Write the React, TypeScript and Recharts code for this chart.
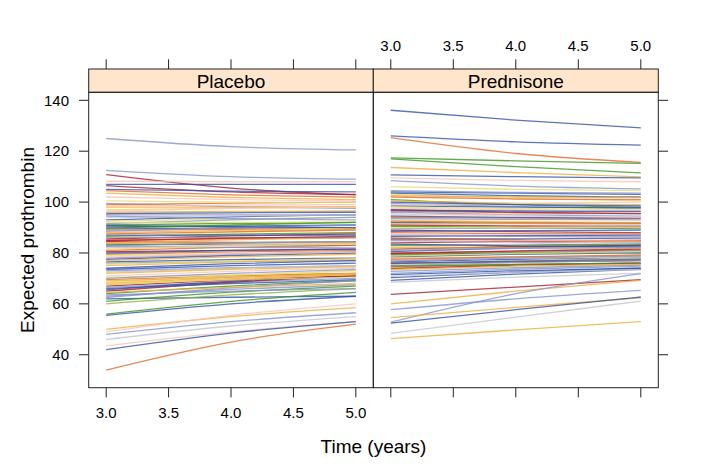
import React from 'react';
import { LineChart, Line, XAxis, YAxis } from 'recharts';

// time points (years) at which each fitted curve is read
const TIMES = [3, 4, 5];
const X_TICKS = [3, 3.5, 4, 4.5, 5];
const Y_TICKS = [40, 60, 80, 100, 120, 140];

// Placebo: expected prothrombin at t = 3, 4, 5
const placeboAt3 = [
  125.0, 112.5, 110.8, 108.2, 107.0, 106.5, 105.0, 104.5, 103.5, 99.5,
  99.0, 98.5, 97.0, 96.0, 95.0, 93.0, 92.5, 91.0, 90.2, 89.5,
  89.0, 88.0, 86.5, 86.0, 85.5, 85.0, 84.5, 84.0, 83.5, 83.0,
  82.0, 81.0, 79.5, 79.0, 78.0, 77.5, 76.5, 76.0, 74.0, 73.0,
  72.5, 71.0, 70.5, 69.5, 68.5, 68.0, 67.0, 66.5, 65.5, 65.0,
  64.0, 63.0, 62.5, 62.0, 61.0, 60.0, 56.0, 55.5, 50.0, 49.0,
  48.0, 46.0, 43.5, 42.0, 34.0, 94.0, 91.5, 87.0, 80.5, 75.0,
  67.5, 82.5, 100.5, 102.0, 88.5, 98.0, 96.5, 95.5, 94.5, 92.0,
  90.8, 89.8, 87.5, 86.2, 84.8, 83.8, 82.8, 81.5, 80.0, 78.5,
  77.0, 75.5, 73.5, 72.0, 70.0, 69.0, 67.8, 66.0, 64.5, 63.5,
];
const placeboAt4 = [
  121.8, 110.0, 105.5, 108.0, 107.0, 104.0, 104.3, 102.8, 101.8, 98.2,
  99.6, 98.8, 97.6, 96.3, 95.0, 94.2, 93.4, 91.6, 90.6, 89.8,
  89.3, 88.9, 87.4, 88.3, 86.7, 85.6, 84.2, 85.2, 83.2, 83.9,
  83.2, 82.2, 80.4, 79.6, 79.5, 79.0, 77.4, 76.6, 75.8, 74.2,
  74.0, 72.8, 71.4, 71.0, 71.2, 70.4, 69.4, 68.6, 68.9, 68.5,
  67.0, 65.7, 66.3, 62.6, 64.6, 63.5, 61.0, 60.0, 55.0, 55.5,
  53.0, 51.3, 49.0, 48.5, 45.0, 94.6, 93.0, 87.0, 81.0, 76.5,
  69.9, 82.2, 100.0, 101.0, 90.0, 98.0, 97.5, 95.8, 93.5, 92.0,
  90.3, 91.0, 88.3, 86.0, 85.8, 84.0, 83.9, 82.8, 81.0, 79.6,
  78.5, 76.8, 75.0, 73.6, 72.0, 70.5, 69.5, 68.0, 66.5, 65.0,
];
const placeboAt5 = [
  120.5, 109.0, 102.8, 108.0, 107.0, 103.0, 104.0, 102.0, 101.0, 97.5,
  100.0, 99.0, 98.0, 96.5, 95.0, 95.0, 94.0, 92.0, 91.0, 90.0,
  89.5, 89.5, 88.0, 90.0, 87.5, 86.0, 84.0, 86.0, 83.0, 84.5,
  84.0, 83.0, 81.0, 80.0, 80.5, 80.0, 78.0, 77.0, 77.0, 75.0,
  75.0, 74.0, 72.0, 72.0, 73.0, 72.0, 71.0, 70.0, 71.0, 71.0,
  69.0, 67.5, 69.0, 63.0, 67.0, 66.0, 64.5, 63.0, 58.5, 60.0,
  56.5, 55.0, 53.0, 53.0, 52.0, 95.0, 94.0, 87.0, 81.5, 77.5,
  71.5, 82.0, 99.8, 100.5, 91.0, 98.2, 98.0, 96.0, 93.0, 92.2,
  90.0, 92.0, 89.0, 86.0, 86.5, 84.2, 84.5, 83.5, 81.5, 80.3,
  79.5, 77.8, 76.0, 74.5, 73.5, 71.5, 70.5, 69.5, 68.0, 66.0,
];
const placeboColour = [
  'lav', 'lav', 'red', 'pink', 'blue', 'red', 'blue', 'orange', 'yorange', 'lav',
  'orange', 'pink', 'yellow', 'yorange', 'lav', 'blue', 'yellow', 'green', 'blue', 'blue',
  'orange', 'yorange', 'green', 'yellow', 'red', 'orange', 'red', 'yorange', 'blue', 'green',
  'pink', 'orange', 'orange', 'yellow', 'lav', 'blue', 'blue', 'lav', 'blue', 'lav',
  'gray', 'pink', 'yellow', 'orange', 'yellow', 'yorange', 'red', 'lav', 'blue', 'red',
  'green', 'lav', 'lav', 'blue', 'green', 'olive', 'green', 'blue', 'yorange', 'pink',
  'lav', 'gray', 'pink', 'blue', 'orange', 'gray', 'lav', 'blue', 'red', 'yorange',
  'yorange', 'lav', 'yellow', 'pink', 'lav', 'yorange', 'pink', 'blue', 'lav', 'yellow',
  'blue', 'green', 'orange', 'lav', 'red', 'yorange', 'lav', 'yellow', 'blue', 'pink',
  'yorange', 'yellow', 'blue', 'yorange', 'lav', 'yorange', 'yellow', 'blue', 'yorange', 'lav',
];

// Prednisone: expected prothrombin at t = 3, 4, 5
const prednisoneAt3 = [
  136.1, 126.0, 125.3, 117.4, 117.0, 113.6, 110.7, 109.5, 108.4, 106.1,
  104.0, 103.5, 103.0, 102.0, 101.0, 100.5, 99.5, 98.5, 97.5, 96.5,
  96.0, 95.0, 94.0, 93.0, 92.0, 91.0, 90.5, 89.5, 89.0, 88.0,
  87.5, 86.5, 86.0, 85.0, 84.0, 83.0, 82.5, 81.5, 80.5, 80.0,
  79.0, 78.5, 78.0, 77.0, 76.5, 76.0, 75.5, 74.5, 73.9, 72.8,
  71.5, 70.3, 69.2, 68.5, 63.7, 60.0, 57.7, 52.8, 54.6, 52.4,
  48.4, 46.3, 91.5, 94.5, 97.0, 85.5, 82.0, 79.5, 99.0, 75.0,
  104.5, 102.5, 100.0, 98.0, 96.8, 95.5, 93.5, 92.5, 90.0, 88.5,
  87.0, 85.8, 84.5, 83.5, 82.0, 81.0, 79.8, 78.8, 77.5, 76.8,
  75.8, 74.8, 73.5, 72.0, 70.8,
];
const prednisoneAt4 = [
  132.2, 123.7, 119.1, 116.2, 113.9, 111.6, 110.0, 108.5, 106.3, 105.0,
  103.5, 102.5, 101.5, 101.2, 99.0, 99.5, 98.2, 98.0, 97.0, 95.8,
  95.0, 95.2, 93.7, 92.5, 91.6, 90.6, 90.0, 89.8, 88.4, 87.6,
  87.0, 86.8, 85.0, 84.3, 84.6, 83.2, 82.0, 82.5, 82.0, 80.6,
  80.3, 79.5, 78.4, 78.3, 77.5, 76.5, 77.0, 75.5, 75.2, 74.2,
  73.0, 72.5, 71.7, 70.5, 66.6, 65.0, 62.0, 64.0, 58.6, 57.7,
  54.8, 49.8, 91.5, 94.0, 96.0, 85.5, 83.5, 80.0, 99.5, 76.3,
  103.8, 102.0, 99.0, 97.5, 96.5, 94.5, 93.2, 92.0, 90.0, 88.8,
  86.5, 85.0, 84.8, 82.8, 82.0, 81.8, 80.8, 79.8, 78.5, 78.0,
  76.8, 75.5, 74.8, 73.6, 72.5,
];
const prednisoneAt5 = [
  129.2, 122.4, 115.6, 115.2, 111.5, 109.9, 109.5, 108.0, 105.2, 104.5,
  103.0, 102.0, 100.5, 101.0, 98.0, 99.0, 97.5, 97.8, 96.5, 95.5,
  94.5, 95.5, 93.5, 92.0, 91.5, 90.5, 89.5, 90.0, 88.0, 87.5,
  86.5, 87.0, 84.5, 84.0, 85.0, 83.5, 81.8, 83.0, 83.0, 81.0,
  81.0, 80.0, 78.5, 79.0, 78.0, 77.0, 78.0, 76.0, 76.0, 75.2,
  74.0, 74.0, 73.6, 72.0, 69.5, 69.2, 65.3, 71.9, 62.4, 62.7,
  61.1, 53.0, 91.5, 93.8, 95.5, 85.8, 84.5, 80.3, 100.0, 77.0,
  103.5, 101.8, 98.5, 97.0, 96.3, 94.0, 93.0, 91.8, 90.2, 89.0,
  86.3, 84.8, 85.2, 82.5, 82.2, 82.2, 81.5, 80.5, 79.2, 78.8,
  77.5, 76.0, 75.5, 74.8, 73.5,
];
const prednisoneColour = [
  'blue', 'blue', 'orange', 'green', 'green', 'yorange', 'blue', 'pink', 'lav', 'yellow',
  'blue', 'blue', 'yellow', 'orange', 'green', 'yorange', 'lav', 'blue', 'pink', 'orange',
  'lav', 'gray', 'orange', 'yellow', 'blue', 'red', 'green', 'lav', 'red', 'orange',
  'pink', 'blue', 'yorange', 'lav', 'red', 'green', 'yellow', 'red', 'blue', 'orange',
  'lav', 'blue', 'yorange', 'gray', 'blue', 'red', 'yellow', 'orange', 'red', 'lav',
  'blue', 'blue', 'blue', 'gray', 'red', 'yorange', 'lav', 'lav', 'yorange', 'blue',
  'gray', 'yorange', 'yorange', 'blue', 'red', 'blue', 'pink', 'green', 'pink', 'lav',
  'lav', 'yorange', 'blue', 'yellow', 'blue', 'pink', 'lav', 'orange', 'yellow', 'blue',
  'lav', 'orange', 'pink', 'blue', 'yorange', 'lav', 'red', 'yellow', 'orange', 'lav',
  'blue', 'green', 'yorange', 'lav', 'gray',
];

const PALETTE: Record<string, string> = {
  blue: '#3152a8',
  lav: '#8594cc',
  red: '#a81e2e',
  orange: '#e06a2c',
  yorange: '#f0ad3c',
  yellow: '#e6dc6e',
  green: '#3f9420',
  olive: '#8fb040',
  pink: '#f8c4bc',
  gray: '#c4c4d0',
};

const W = 706;
const H = 471;
const PLOT_TOP = 92.3;
const PLOT_BOTTOM = 387.7;
const STRIP_TOP = 69;
const LEFT_X0 = 88.7;
const MID_X = 373.3;
const RIGHT_X1 = 658.3;
const TICK = 9.7;
const X_DOMAIN = [2.86, 5.14];
const Y_DOMAIN = [27.05, 143.15];
const FONT = '"Liberation Sans", Arial, Helvetica, sans-serif';

const buildRows = (at3: number[], at4: number[], at5: number[]) =>
  TIMES.map((t, i) => {
    const vals = [at3, at4, at5][i];
    const row: Record<string, number> = { time: t };
    vals.forEach((v, k) => {
      row['s' + k] = v;
    });
    return row;
  });

const placeboRows = buildRows(placeboAt3, placeboAt4, placeboAt5);
const prednisoneRows = buildRows(prednisoneAt3, prednisoneAt4, prednisoneAt5);

const fmtX = (v: number) => v.toFixed(1);

// top axis ticks sit above the strip, so they are drawn by hand at the scale's x
const TopTick = (labels: boolean) => (props: any) => {
  const { x, payload } = props;
  return (
    <g>
      <line x1={x} x2={x} y1={STRIP_TOP - TICK} y2={STRIP_TOP} stroke="#222" />
      {labels && (
        <text x={x} y={50.7} textAnchor="middle" fontSize={15} fontFamily={FONT} fill="#000">
          {fmtX(payload.value)}
        </text>
      )}
    </g>
  );
};

const BottomTick = (labels: boolean) => (props: any) => {
  const { x, payload } = props;
  return (
    <g>
      <line x1={x} x2={x} y1={PLOT_BOTTOM} y2={PLOT_BOTTOM + TICK} stroke="#222" />
      {labels && (
        <text x={x} y={418.4} textAnchor="middle" fontSize={15} fontFamily={FONT} fill="#000">
          {fmtX(payload.value)}
        </text>
      )}
    </g>
  );
};

const LeftTick = (props: any) => {
  const { y, payload } = props;
  return (
    <g>
      <line x1={LEFT_X0 - TICK} x2={LEFT_X0} y1={y} y2={y} stroke="#222" />
      <text x={69} y={y} dy="0.35em" textAnchor="end" fontSize={15} fontFamily={FONT} fill="#000">
        {payload.value}
      </text>
    </g>
  );
};

const RightTick = (props: any) => {
  const { y } = props;
  return <line x1={RIGHT_X1} x2={RIGHT_X1 + TICK} y1={y} y2={y} stroke="#222" />;
};

interface PanelProps {
  rows: Record<string, number>[];
  colours: string[];
  side: 'left' | 'right';
}

const Panel = ({ rows, colours, side }: PanelProps) => {
  const isLeft = side === 'left';
  const margin = isLeft
    ? { top: PLOT_TOP - 30, bottom: H - PLOT_BOTTOM - 30, left: LEFT_X0 - 40, right: W - MID_X }
    : { top: PLOT_TOP - 30, bottom: H - PLOT_BOTTOM - 30, left: MID_X, right: W - RIGHT_X1 - 30 };
  return (
    <div style={{ position: 'absolute', left: 0, top: 0 }}>
      <LineChart width={W} height={H} data={rows} margin={margin}>
        <XAxis
          xAxisId="bottom"
          orientation="bottom"
          type="number"
          dataKey="time"
          domain={X_DOMAIN}
          ticks={X_TICKS}
          allowDataOverflow
          height={30}
          axisLine={false}
          tickLine={false}
          tick={BottomTick(isLeft)}
          interval={0}
        />
        <XAxis
          xAxisId="top"
          orientation="top"
          type="number"
          dataKey="time"
          domain={X_DOMAIN}
          ticks={X_TICKS}
          allowDataOverflow
          height={30}
          axisLine={false}
          tickLine={false}
          tick={TopTick(!isLeft)}
          interval={0}
        />
        <YAxis
          orientation={isLeft ? 'left' : 'right'}
          type="number"
          domain={Y_DOMAIN}
          ticks={Y_TICKS}
          allowDataOverflow
          width={isLeft ? 40 : 30}
          axisLine={false}
          tickLine={false}
          tick={isLeft ? LeftTick : RightTick}
          interval={0}
        />
        {colours.map((c, k) => (
          <Line
            key={k}
            xAxisId="bottom"
            type="monotone"
            dataKey={'s' + k}
            stroke={PALETTE[c]}
            strokeWidth={1.3}
            strokeOpacity={0.8}
            dot={false}
            activeDot={false}
            isAnimationActive={false}
          />
        ))}
      </LineChart>
    </div>
  );
};

const Frame = () => (
  <svg
    width={W}
    height={H}
    style={{ position: 'absolute', left: 0, top: 0, pointerEvents: 'none' }}
    fontFamily={FONT}
  >
    {[
      { x0: LEFT_X0, x1: MID_X, name: 'Placebo' },
      { x0: MID_X, x1: RIGHT_X1, name: 'Prednisone' },
    ].map((p) => (
      <g key={p.name}>
        <rect x={p.x0} y={STRIP_TOP} width={p.x1 - p.x0} height={PLOT_TOP - STRIP_TOP} fill="#ffe5cc" stroke="#222" />
        <text x={(p.x0 + p.x1) / 2} y={88.2} textAnchor="middle" fontSize={19} fill="#000">
          {p.name}
        </text>
        <rect x={p.x0} y={PLOT_TOP} width={p.x1 - p.x0} height={PLOT_BOTTOM - PLOT_TOP} fill="none" stroke="#222" />
      </g>
    ))}
    <text x={(LEFT_X0 + RIGHT_X1) / 2} y={452.6} textAnchor="middle" fontSize={19} fill="#000">
      Time (years)
    </text>
    <text
      x={33.5}
      y={(PLOT_TOP + PLOT_BOTTOM) / 2}
      textAnchor="middle"
      fontSize={19}
      fill="#000"
      transform={`rotate(-90 33.5 ${(PLOT_TOP + PLOT_BOTTOM) / 2})`}
    >
      Expected prothrombin
    </text>
  </svg>
);

export default function App() {
  return (
    <div style={{ position: 'absolute', left: 0, top: 0, width: W, height: H, background: '#fff' }}>
      <Panel rows={placeboRows} colours={placeboColour} side="left" />
      <Panel rows={prednisoneRows} colours={prednisoneColour} side="right" />
      <Frame />
    </div>
  );
}
